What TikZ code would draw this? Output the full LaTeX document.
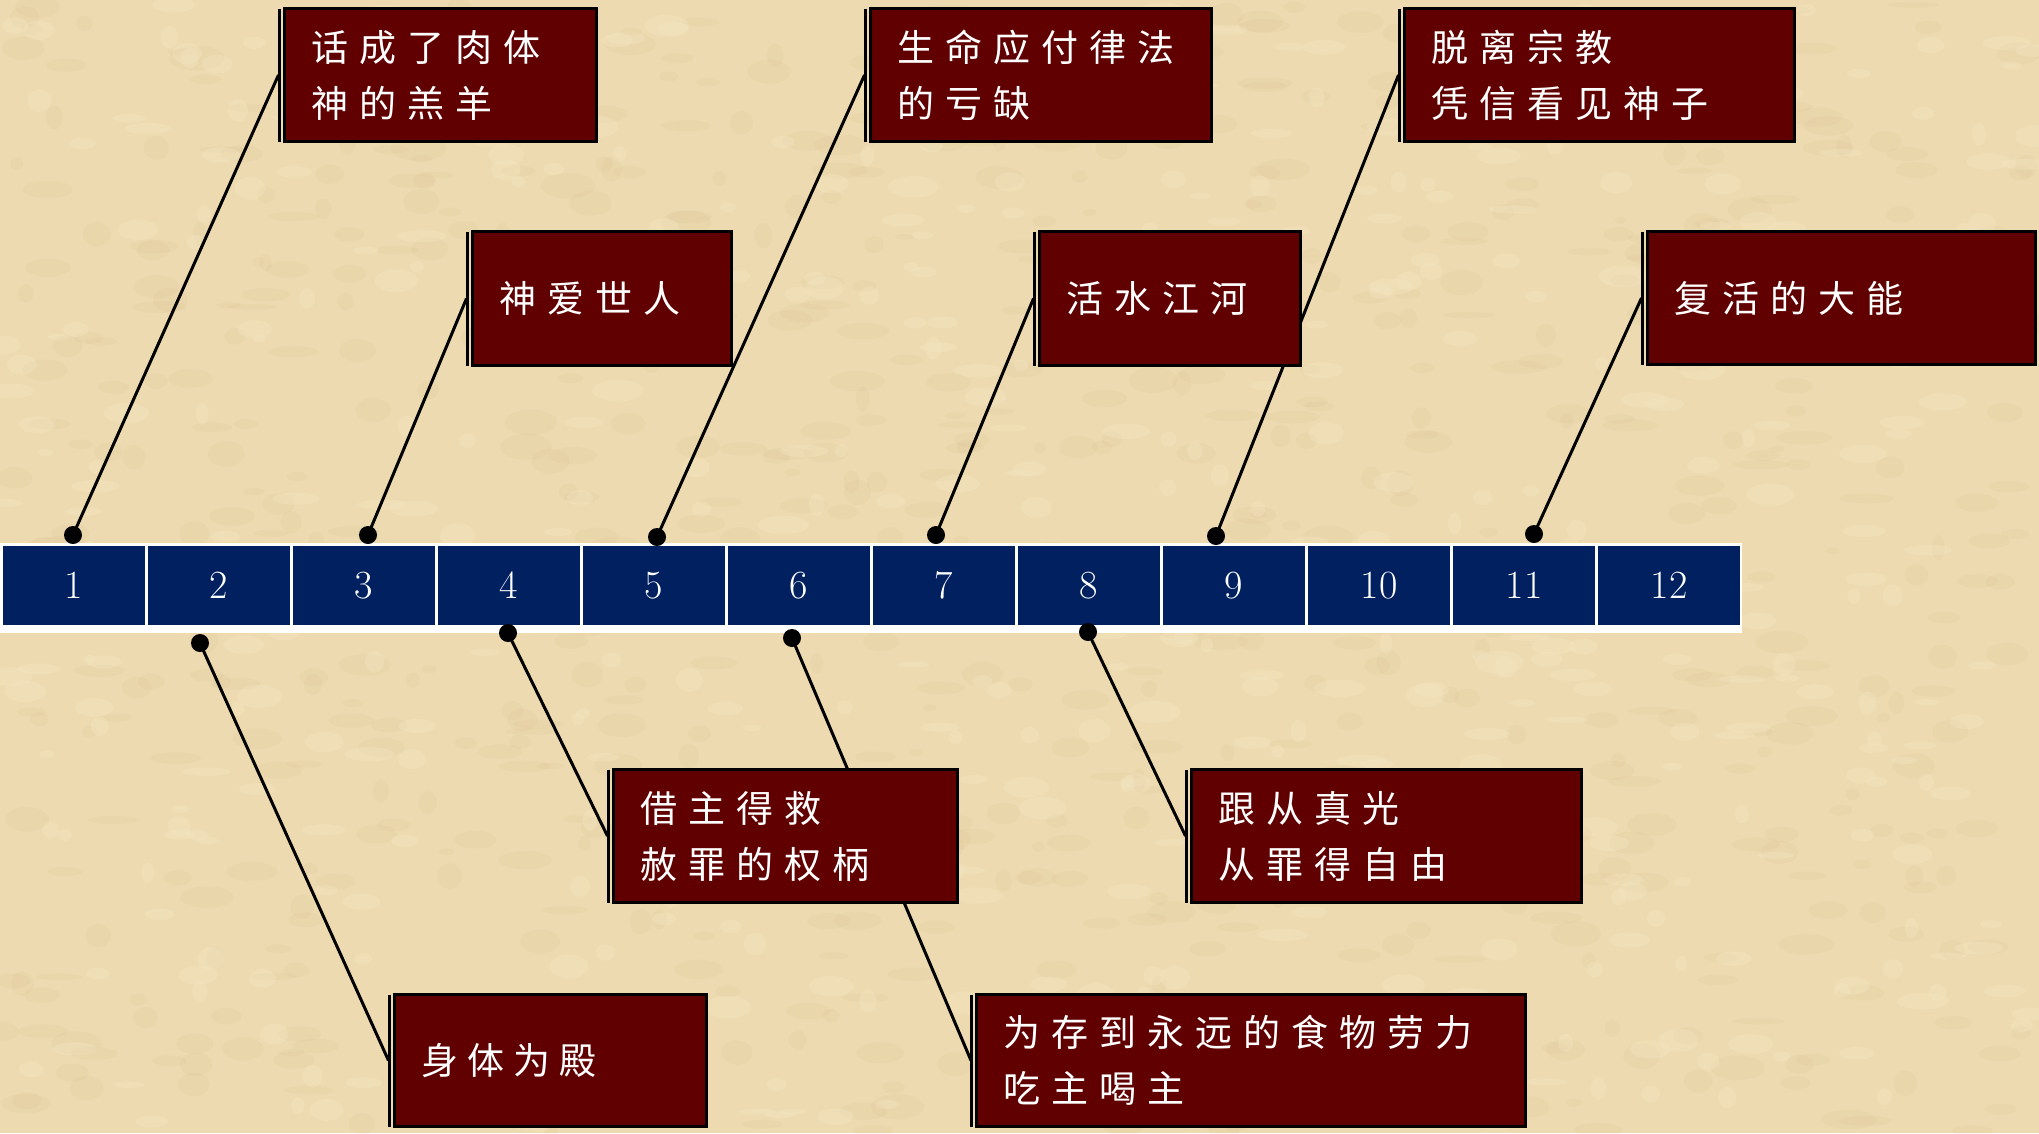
\documentclass[tikz,border=0pt]{standalone}
\usepackage{fontspec}
\newfontfamily\cjkfont{Noto Sans CJK SC}
\definecolor{bgc}{HTML}{EDDAB0}
\definecolor{bgdark}{HTML}{C9AE78}
\definecolor{bglight}{HTML}{F8EBCB}
\definecolor{navy}{HTML}{002060}
\definecolor{boxred}{HTML}{600000}
\def\cjkgp{11pt}
\def\spcx#1{\spcloop#1\relax}
\def\spcloop#1{\ifx\relax#1\else#1\kern\cjkgp\expandafter\spcloop\fi}
\newcommand\cbox[7]{%
  \pgfmathsetmacro\bw{#4-#2-3}%
  \pgfmathsetmacro\bh{#5-#3-3}%
  \pgfmathsetmacro\tw{#4-#2-3-54}%
  \def\cjkgp{#6}%
  \node[rbox, minimum width=\bw pt, minimum height=\bh pt, text width=\tw pt] (#1) at ({#2+1.5},{#3+1.5}) {#7};
  \draw[sideline] ([xshift=-5.5pt]#1.north west) -- ([xshift=-5.5pt]#1.south west);
}
\begin{document}
\begin{tikzpicture}[x=1pt,y=-1pt,
  rbox/.style={draw=black, line width=3pt, fill=boxred, text=white, inner xsep=27pt, inner ysep=0pt,
    outer sep=0pt, anchor=north west, align=left, font=\cjkfont\fontsize{37}{56}\selectfont},
  sideline/.style={draw=black, line width=3pt},
  cell/.style={fill=navy, text=white, minimum width=142pt, minimum height=79pt, inner sep=0pt,
    outer sep=0pt, anchor=north west, font=\fontsize{40}{40}\selectfont},
  dot/.style={circle, fill=black, minimum size=18pt, inner sep=0pt},
  conn/.style={draw=black, line width=3pt}]
% background
\fill[bgc] (0,0) rectangle (2039,1133);
\useasboundingbox (0,0) rectangle (2039,1133);
\pgfmathsetseed{11}
\foreach \i in {1,...,700} {
  \fill[bgdark, opacity=0.08] ({rnd*2039},{rnd*1133}) ellipse ({6+rnd*22} and {3+rnd*10});
}
\foreach \i in {1,...,500} {
  \fill[bglight, opacity=0.25] ({rnd*2039},{rnd*1133}) ellipse ({6+rnd*20} and {3+rnd*9});
}
% timeline bar
\fill[white] (0,543) rectangle (1742,633);
\foreach \n in {1,...,12} {
  \node[cell] (c\n) at ({3+(\n-1)*145},546) {\n};
}
% dots
\node[dot] (d1) at (73,535) {};
\node[dot] (d3) at (368,535) {};
\node[dot] (d5) at (657,537) {};
\node[dot] (d7) at (936,535) {};
\node[dot] (d9) at (1216,536) {};
\node[dot] (d11) at (1534,534) {};
\node[dot] (d2) at (200,643) {};
\node[dot] (d4) at (508,633) {};
\node[dot] (d6) at (792,638) {};
\node[dot] (d8) at (1088,632) {};
% connector ends on the boxes' left side lines
\coordinate (pA) at (278.5,75);
\coordinate (pB) at (466.5,298.5);
\coordinate (pC) at (864.5,75);
\coordinate (pD) at (1033.5,298.5);
\coordinate (pE) at (1398.5,75);
\coordinate (pF) at (1641.5,298);
\coordinate (pG) at (607.5,836);
\coordinate (pH) at (1185.5,836);
\coordinate (pI) at (388.5,1060.5);
\coordinate (pJ) at (971,1060.5);
\draw[conn] (d1.center) -- (pA);
\draw[conn] (d3.center) -- (pB);
\draw[conn] (d5.center) -- (pC);
\draw[conn] (d7.center) -- (pD);
\draw[conn] (d9.center) -- (pE);
\draw[conn] (d11.center) -- (pF);
\draw[conn] (d2.center) -- (pI);
\draw[conn] (d4.center) -- (pG);
\draw[conn] (d6.center) -- (pJ);
\draw[conn] (d8.center) -- (pH);
% boxes
\cbox{bA}{283}{7}{598}{143}{11pt}{\spcx{话成了肉体}\\\spcx{神的羔羊}}
\cbox{bB}{471}{230}{733}{367}{11pt}{\spcx{神爱世人}}
\cbox{bC}{869}{7}{1213}{143}{11pt}{\spcx{生命应付律法}\\\spcx{的亏缺}}
\cbox{bD}{1038}{230}{1302}{367}{11pt}{\spcx{活水江河}}
\cbox{bE}{1403}{7}{1796}{143}{11pt}{\spcx{脱离宗教}\\\spcx{凭信看见神子}}
\cbox{bF}{1646}{230}{2037}{366}{11pt}{\spcx{复活的大能}}
\cbox{bG}{612}{768}{959}{904}{11pt}{\spcx{借主得救}\\\spcx{赦罪的权柄}}
\cbox{bH}{1190}{768}{1583}{904}{11pt}{\spcx{跟从真光}\\\spcx{从罪得自由}}
\cbox{bI}{393}{993}{708}{1128}{9pt}{\spcx{身体为殿}}
\cbox{bJ}{975}{993}{1527}{1128}{11pt}{\spcx{为存到永远的食物劳力}\\\spcx{吃主喝主}}
\end{tikzpicture}
\end{document}
